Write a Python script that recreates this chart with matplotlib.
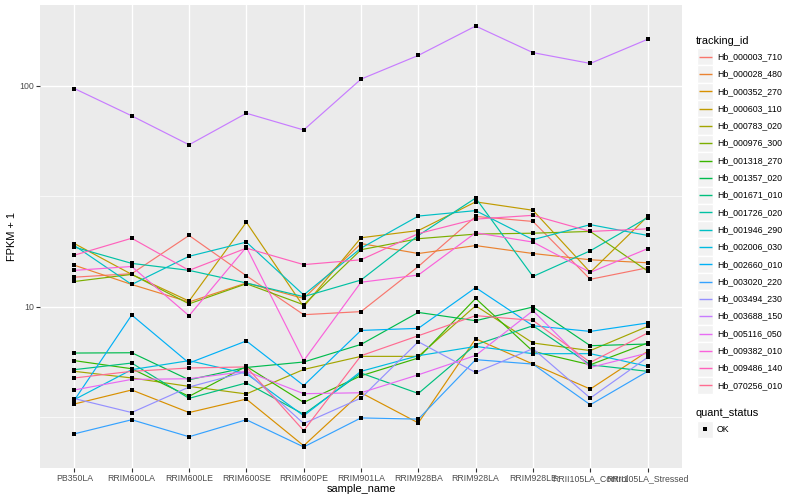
import matplotlib
matplotlib.use('Agg')
from matplotlib import pyplot as plt
from matplotlib.patches import Rectangle
from matplotlib.ticker import NullFormatter
import numpy as np

plt.rcParams['font.family'] = ['Liberation Sans', 'DejaVu Sans']

samples = ['PB350LA', 'RRIM600LA', 'RRIM600LE', 'RRIM600SE', 'RRIM600PE',
           'RRIM901LA', 'RRIM928BA', 'RRIM928LA', 'RRIM928LE',
           'RRII105LA_Control', 'RRII105LA_Stressed']

tracking_ids = ['Hb_000003_710', 'Hb_000028_480', 'Hb_000352_270', 'Hb_000603_110',
                'Hb_000783_020', 'Hb_000976_300', 'Hb_001318_270', 'Hb_001357_020',
                'Hb_001671_010', 'Hb_001726_020', 'Hb_001946_290', 'Hb_002006_030',
                'Hb_002660_010', 'Hb_003020_220', 'Hb_003494_230', 'Hb_003688_150',
                'Hb_005116_050', 'Hb_009382_010', 'Hb_009486_140', 'Hb_070256_010']

# FPKM + 1, one list per gene, in sample order
hb_000003_710 = [13.6, 14.1, 21.0, 13.8, 9.2, 9.5, 15.2, 25.6, 24.3, 13.3, 15.0]
hb_000028_480 = [15.4, 12.6, 10.5, 12.8, 10.9, 19.3, 17.4, 18.9, 17.4, 16.3, 15.8]
hb_000352_270 = [3.63, 4.20, 3.32, 3.82, 2.35, 4.08, 2.98, 7.16, 5.50, 4.24, 6.28]
hb_000603_110 = [19.3, 14.0, 10.6, 24.1, 10.0, 20.5, 22.1, 29.8, 27.3, 14.3, 25.6]
hb_000783_020 = [5.10, 4.76, 4.36, 4.03, 5.20, 5.96, 5.96, 10.1, 6.85, 6.33, 8.14]
hb_000976_300 = [13.0, 14.0, 10.3, 12.7, 10.2, 18.1, 20.3, 21.3, 21.5, 21.9, 14.5]
hb_001318_270 = [5.70, 5.24, 3.93, 5.37, 3.69, 4.87, 5.86, 10.9, 6.28, 5.46, 6.85]
hb_001357_020 = [6.17, 6.19, 4.67, 5.31, 5.62, 6.75, 9.42, 8.64, 9.97, 6.66, 6.78]
hb_001671_010 = [5.19, 5.56, 3.85, 4.52, 3.26, 5.01, 4.05, 6.73, 8.20, 5.46, 5.10]
hb_001726_020 = [18.6, 15.7, 14.6, 12.8, 11.1, 13.2, 21.0, 31.0, 13.7, 17.9, 25.3]
hb_001946_290 = [18.9, 12.6, 16.9, 19.6, 11.3, 18.4, 25.7, 27.2, 20.1, 23.5, 21.0]
hb_002006_030 = [3.80, 5.19, 5.70, 4.98, 3.21, 5.10, 6.00, 6.61, 6.13, 6.13, 5.37]
hb_002660_010 = [3.78, 9.17, 5.56, 7.00, 4.40, 7.81, 7.98, 12.2, 8.20, 7.73, 8.44]
hb_003020_220 = [2.66, 3.08, 2.58, 3.08, 2.32, 3.14, 3.10, 5.76, 5.50, 3.60, 5.10]
hb_003494_230 = [3.84, 3.32, 4.33, 5.08, 2.96, 3.86, 6.94, 5.04, 6.46, 3.86, 5.90]
hb_003688_150 = [97, 73, 54, 75, 63, 107, 137, 186, 141, 126, 162]
hb_005116_050 = [4.20, 4.69, 4.72, 5.10, 4.04, 4.08, 4.92, 6.02, 9.59, 5.31, 6.17]
hb_009382_010 = [14.6, 15.2, 9.1, 18.6, 5.7, 12.9, 13.9, 21.6, 19.6, 14.3, 18.3]
hb_009486_140 = [17.1, 20.4, 14.6, 18.4, 15.5, 16.3, 21.4, 24.9, 25.9, 21.9, 22.5]
hb_070256_010 = [4.76, 5.10, 5.28, 5.34, 2.75, 6.00, 7.39, 9.11, 8.67, 5.60, 7.60]

series = [hb_000003_710, hb_000028_480, hb_000352_270, hb_000603_110,
          hb_000783_020, hb_000976_300, hb_001318_270, hb_001357_020,
          hb_001671_010, hb_001726_020, hb_001946_290, hb_002006_030,
          hb_002660_010, hb_003020_220, hb_003494_230, hb_003688_150,
          hb_005116_050, hb_009382_010, hb_009486_140, hb_070256_010]

# ggplot default hue palette, 20 levels
palette = ['#F8766D', '#EA8331', '#D89000', '#C09B00', '#A3A500', '#7CAE00',
           '#39B600', '#00BB4E', '#00BF7D', '#00C1A3', '#00BFC4', '#00BAE0',
           '#00B0F6', '#35A2FF', '#9590FF', '#C77CFF', '#E76BF3', '#FA62DB',
           '#FF62BC', '#FF6C91']

fig = plt.figure(figsize=(8, 5), dpi=100)
ax = fig.add_axes([40 / 800, 1 - 468 / 500, 642 / 800, 463 / 500])

x = np.arange(len(samples))
for vals, col in zip(series, palette):
    ax.plot(x, vals, color=col, lw=0.85, zorder=2)
for vals in series:
    ax.plot(x, vals, 's', color='black', ms=3.0, mew=0, ls='none', zorder=3)

ax.set_yscale('log')
allv = np.concatenate([np.array(s, dtype=float) for s in series])
lo, hi = np.log10(allv.min()), np.log10(allv.max())
pad = 0.05 * (hi - lo)
ax.set_ylim(10 ** (lo - pad), 10 ** (hi + pad))
ax.set_xlim(-0.6, len(samples) - 1 + 0.6)

ax.set_yticks([10, 100])
ax.set_yticklabels(['10', '100'])
ax.set_yticks([10 ** 0.5, 10 ** 1.5], minor=True)
ax.yaxis.set_minor_formatter(NullFormatter())
ax.set_xticks(x)
ax.set_xticklabels(samples)

ax.set_facecolor('#EBEBEB')
for s in ax.spines.values():
    s.set_visible(False)
ax.set_axisbelow(True)
ax.grid(which='major', color='white', lw=1.0)
ax.grid(which='minor', axis='y', color='white', lw=0.5)
ax.tick_params(which='major', length=2.7, width=0.8, color='#333333',
               labelsize=6.3, labelcolor='#4D4D4D', pad=1.5)
ax.tick_params(which='minor', length=0)
ax.set_xlabel('sample_name', fontsize=7.9, labelpad=1)
ax.set_ylabel('FPKM + 1', fontsize=7.9, labelpad=2)

# legend, drawn in pixel coordinates
lg = fig.add_axes([0, 0, 1, 1])
lg.set_xlim(0, 800)
lg.set_ylim(500, 0)
lg.axis('off')

lg.text(696, 41, 'tracking_id', fontsize=7.9, va='center', ha='left')
for i, (name, col) in enumerate(zip(tracking_ids, palette)):
    yc = 56.7 + 17.3 * i
    lg.add_patch(Rectangle((697, yc - 8.6), 16, 17.3, facecolor='#F2F2F2',
                           edgecolor='white', lw=1, zorder=1))
    lg.plot([698.5, 711.5], [yc, yc], color=col, lw=1.0, zorder=2,
            solid_capstyle='butt')
    lg.text(717, yc, name, fontsize=6.3, va='center', ha='left')

lg.text(696, 413, 'quant_status', fontsize=7.9, va='center', ha='left')
lg.add_patch(Rectangle((697, 429.3 - 8.6), 16, 17.3, facecolor='#F2F2F2',
                       edgecolor='white', lw=1, zorder=1))
lg.plot([705], [429.3], 's', color='black', ms=3.0, mew=0, zorder=2)
lg.text(717, 429.3, 'OK', fontsize=6.3, va='center', ha='left')

fig.savefig('out.png', dpi=100)
